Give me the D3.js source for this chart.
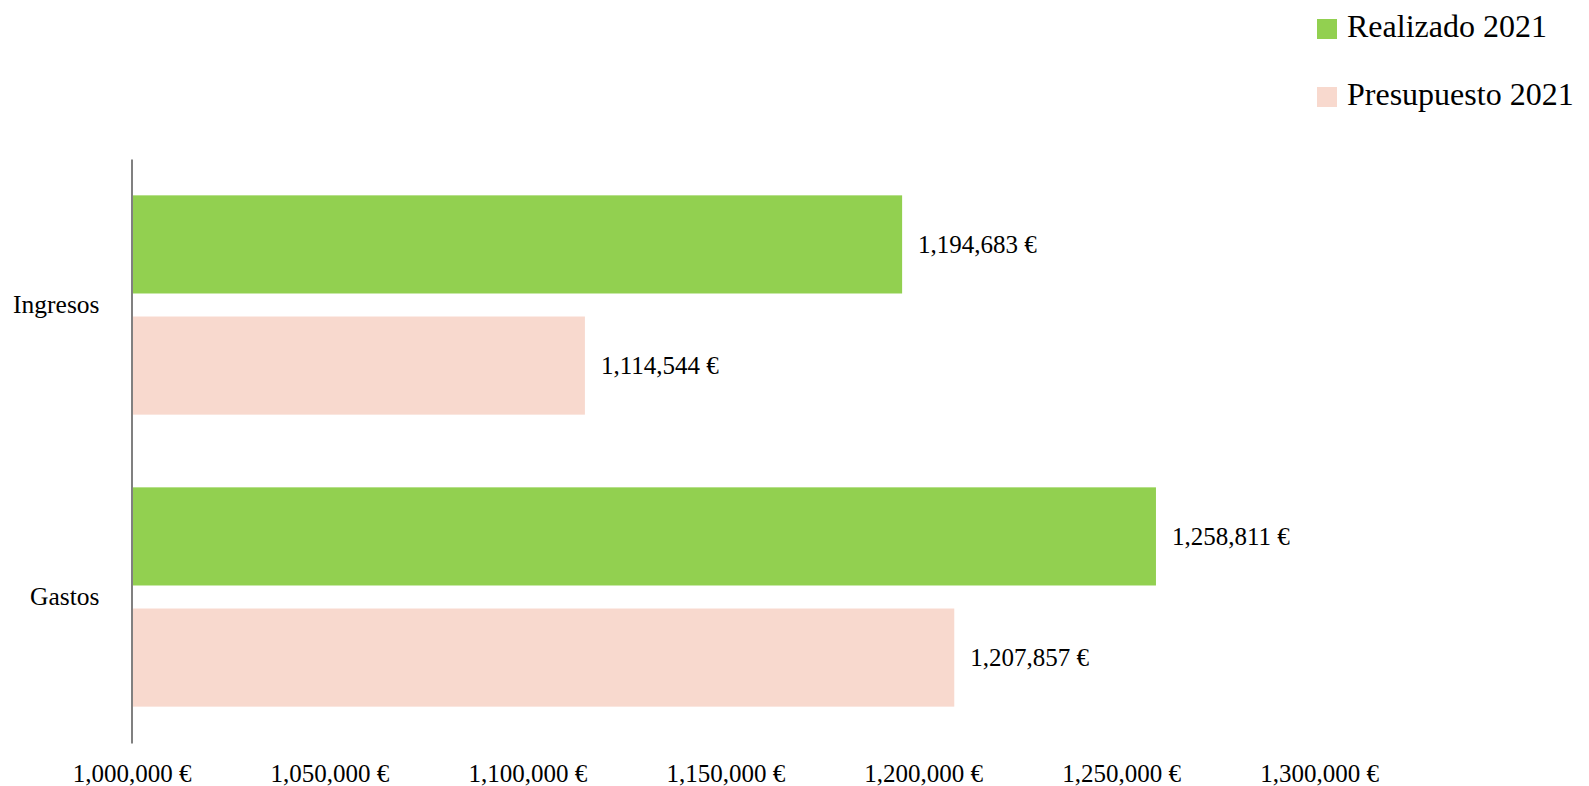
<!DOCTYPE html>
<meta charset="utf-8">
<style>
  body { margin: 0; background: #fff; }
  text { font-family: "Liberation Serif", "DejaVu Serif", serif; fill: #000; }
</style>
<body>
<script src="https://d3js.org/d3.v7.min.js"></script>
<script>
// data
var categories = ["Ingresos", "Gastos"];
var series = ["Realizado 2021", "Presupuesto 2021"];
var realizado = [1194683, 1258811];
var presupuesto = [1114544, 1207857];
var xTicks = [1000000, 1050000, 1100000, 1150000, 1200000, 1250000, 1300000];
var colors = ["#92D050", "#F8D9CE"];

var width = 1589,
    height = 786;

var rows = categories.map(function(c, i) {
  return {cat: c, values: [realizado[i], presupuesto[i]]};
});

var svg = d3.select("body").append("svg")
    .attr("width", width)
    .attr("height", height);

var x = d3.scaleLinear()
    .domain([xTicks[0], xTicks[xTicks.length - 1]])
    .range([131.5, 1319]);

var y0 = d3.scaleBand()
    .domain(categories)
    .range([159, 743]);

var y1 = d3.scaleBand()
    .domain(series)
    .range([0, y0.bandwidth()])
    .paddingInner(0.19)
    .paddingOuter(0.3);

var fmt = function(v) { return d3.format(",")(v) + " €"; };

var groups = svg.selectAll("g.cat")
    .data(rows)
    .enter().append("g")
    .attr("class", "cat")
    .attr("transform", function(d) { return "translate(0," + y0(d.cat) + ")"; });

groups.selectAll("rect")
    .data(function(d) { return d.values.map(function(v, i) { return {s: series[i], v: v, i: i}; }); })
    .enter().append("rect")
    .attr("x", x(xTicks[0]))
    .attr("y", function(d) { return y1(d.s); })
    .attr("width", function(d) { return x(d.v) - x(xTicks[0]); })
    .attr("height", y1.bandwidth())
    .attr("fill", function(d) { return colors[d.i]; });

groups.selectAll("text.val")
    .data(function(d) { return d.values.map(function(v, i) { return {s: series[i], v: v}; }); })
    .enter().append("text")
    .attr("class", "val")
    .attr("x", function(d) { return x(d.v) + 16; })
    .attr("y", function(d) { return y1(d.s) + y1.bandwidth() / 2; })
    .attr("dy", "0.35em")
    .style("font-size", "25px")
    .text(function(d) { return fmt(d.v); });

// x axis: labels only
var xAxis = svg.append("g")
    .attr("transform", "translate(0,743)")
    .call(d3.axisBottom(x).tickValues(xTicks).tickSize(0).tickPadding(21).tickFormat(fmt));
xAxis.select(".domain").remove();
xAxis.selectAll("text").style("font-size", "25px").style("font-family", '"Liberation Serif", serif');

// y axis with vertical line
var yAxis = svg.append("g")
    .attr("transform", "translate(" + x(xTicks[0]) + ",0)")
    .call(d3.axisLeft(y0).tickSize(0).tickPadding(32));
yAxis.select(".domain").attr("stroke", "#808080").attr("stroke-width", 2);
yAxis.selectAll("text").style("font-size", "25.5px").style("font-family", '"Liberation Serif", serif');

// legend
var legend = svg.selectAll("g.leg")
    .data(series)
    .enter().append("g")
    .attr("class", "leg")
    .attr("transform", function(d, i) { return "translate(1317," + (19 + i * 68) + ")"; });

legend.append("rect")
    .attr("width", 20)
    .attr("height", 20)
    .attr("fill", function(d, i) { return colors[i]; });

legend.append("text")
    .attr("x", 30)
    .attr("y", 18)
    .style("font-size", "32px")
    .text(function(d) { return d; });
</script>
</body>
